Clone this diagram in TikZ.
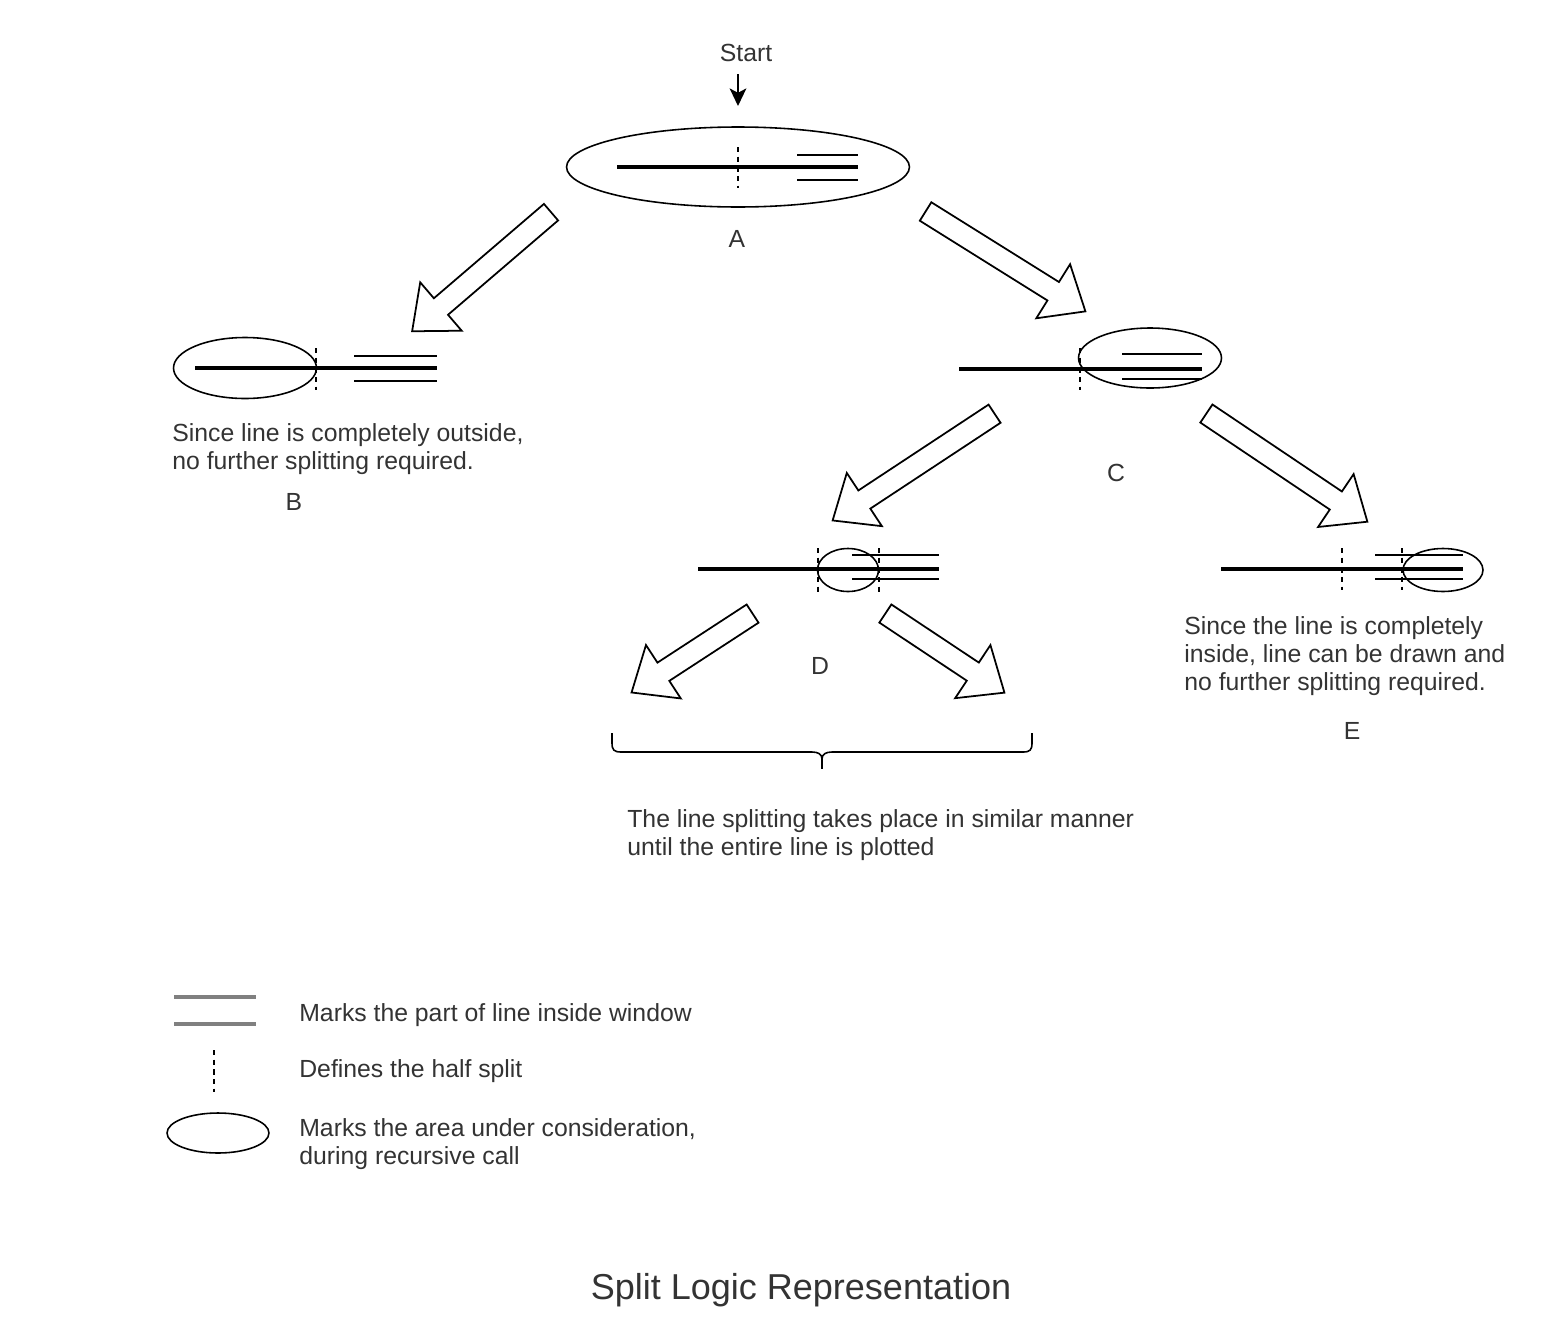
\documentclass[tikz,border=0pt]{standalone}
\usepackage{fontspec}
\setmainfont{Liberation Sans}
\usetikzlibrary{shapes.geometric,shapes.arrows,arrows.meta}
\definecolor{txtgray}{HTML}{333333}
\definecolor{keygray}{HTML}{808080}

\begin{document}
\begin{tikzpicture}[x=0.02cm, y=-0.02cm,
  lbl/.style={text=txtgray, font=\fontsize{14.1pt}{15.9pt}\selectfont, inner sep=0pt},
  note/.style={lbl, align=left, anchor=west},
  win/.style={draw, ellipse, line width=0.9pt, inner sep=0pt},
  seg/.style={line width=2pt},
  inln/.style={line width=1pt},
  half/.style={line width=0.8pt, dash pattern=on 3pt off 2.5pt},
  key/.style={draw=keygray, line width=2pt},
  brc/.style={line width=0.9pt},
  bigarrow/.style={draw, single arrow, line width=1pt, inner xsep=0pt, inner ysep=0.2cm,
    single arrow head extend=0.42cm, single arrow tip angle=80}]
  \useasboundingbox (0,0) rectangle (1552,1322);

  % Nodes
  % Start
  \node[lbl] (start) at (746,53) {Start};
  \coordinate (s0) at (738,74);
  \coordinate (s1) at (738,106);

  % A: whole line under consideration
  \node[win, minimum width=6.86cm, minimum height=1.6cm] (wa) at (738,167) {};
  \draw[seg] (617,167) -- (858,167);
  \draw[inln] (797,155) -- (858,155);
  \draw[inln] (797,180) -- (858,180);
  \draw[half] (738,147) -- (738,188);
  \node[lbl] (la) at (737,239) {A};

  % B: left half, completely outside
  \node[win, minimum width=2.86cm, minimum height=1.22cm] (wb) at (245,368) {};
  \draw[seg] (195,368) -- (437,368);
  \draw[inln] (354,356) -- (437,356);
  \draw[inln] (354,381) -- (437,381);
  \draw[half] (316,348) -- (316,390);
  \node[note] (tb) at (172,449) {Since line is completely outside,\\no further splitting required.};
  \node[lbl] (lb) at (294,502) {B};

  % C: right half
  \node[win, minimum width=2.86cm, minimum height=1.2cm] (wc) at (1150,358) {};
  \draw[seg] (959,369) -- (1202,369);
  \draw[inln] (1122,354) -- (1202,354);
  \draw[inln] (1122,379) -- (1202,379);
  \draw[half] (1080,348) -- (1080,390);
  \node[lbl] (lc) at (1116,473) {C};

  % D
  \node[win, minimum width=1.22cm, minimum height=0.86cm] (wd) at (848,570) {};
  \draw[seg] (698,569) -- (939,569);
  \draw[inln] (852,555) -- (939,555);
  \draw[inln] (852,579) -- (939,579);
  \draw[half] (818,548) -- (818,592);
  \draw[half] (879,548) -- (879,592);
  \node[lbl] (ld) at (820,666) {D};

  % E: completely inside
  \node[win, minimum width=1.6cm, minimum height=0.86cm] (we) at (1443,570) {};
  \draw[seg] (1221,569) -- (1463,569);
  \draw[inln] (1375,555) -- (1463,555);
  \draw[inln] (1375,579) -- (1463,579);
  \draw[half] (1342,548) -- (1342,590);
  \draw[half] (1402,548) -- (1402,590);
  \node[note] (te) at (1184,656) {Since the line is completely\\inside, line can be drawn and\\no further splitting required.};
  \node[lbl] (le) at (1352,731) {E};

  % Brace
  \coordinate (br0) at (612,733);
  \coordinate (br1) at (1032,733);
  \coordinate (brm) at (822,759);
  \coordinate (brt) at (822,769);
  \node[note] (tbr) at (627,835) {The line splitting takes place in similar manner\\until the entire line is plotted};

  % Legend
  \coordinate (k1a) at (174,997);
  \coordinate (k1b) at (256,997);
  \coordinate (k1c) at (174,1024);
  \coordinate (k1d) at (256,1024);
  \node[note] (k1) at (299,1015) {Marks the part of line inside window};
  \coordinate (k2a) at (214,1050);
  \coordinate (k2b) at (214,1092);
  \node[note] (k2) at (299,1071) {Defines the half split};
  \node[win, minimum width=2.04cm, minimum height=0.8cm] (k3e) at (218,1133) {};
  \node[note] (k3) at (299,1144) {Marks the area under consideration,\\during recursive call};

  % Title
  \node[text=txtgray, font=\fontsize{20.5pt}{24pt}\selectfont, inner sep=0pt] (title) at (801,1290) {Split Logic Representation};

  % Arrows
  \draw[-{Stealth[length=10pt,width=9.5pt,inset=2.5pt]}, line width=1.1pt] (s0) -- (s1);

  \node[bigarrow, minimum height=3.66cm, rotate=220.6] (ab) at (486.5,267.5) {};
  \node[bigarrow, minimum height=3.77cm, rotate=-32] (ac) at (1000,258) {};
  \node[bigarrow, minimum height=3.88cm, rotate=213.4] (cd) at (919,463.5) {};
  \node[bigarrow, minimum height=3.88cm, rotate=-33.9] (ce) at (1281.5,464) {};
  \node[bigarrow, minimum height=2.89cm, rotate=213.1] (dl) at (697.5,649.5) {};
  \node[bigarrow, minimum height=2.86cm, rotate=-33.6] (dr) at (939.5,649.5) {};

  \draw[brc] (br0) -- (612,743) .. controls (612,750) and (614,752) .. (621,752)
    -- (812,752) .. controls (818,752) and (822,754) .. (brm)
    .. controls (822,754) and (826,752) .. (832,752)
    -- (1023,752) .. controls (1030,752) and (1032,750) .. (1032,743) -- (br1);
  \draw[brc] (brm) -- (brt);

  \draw[key] (k1a) -- (k1b);
  \draw[key] (k1c) -- (k1d);
  \draw[half] (k2a) -- (k2b);

\end{tikzpicture}
\end{document}
